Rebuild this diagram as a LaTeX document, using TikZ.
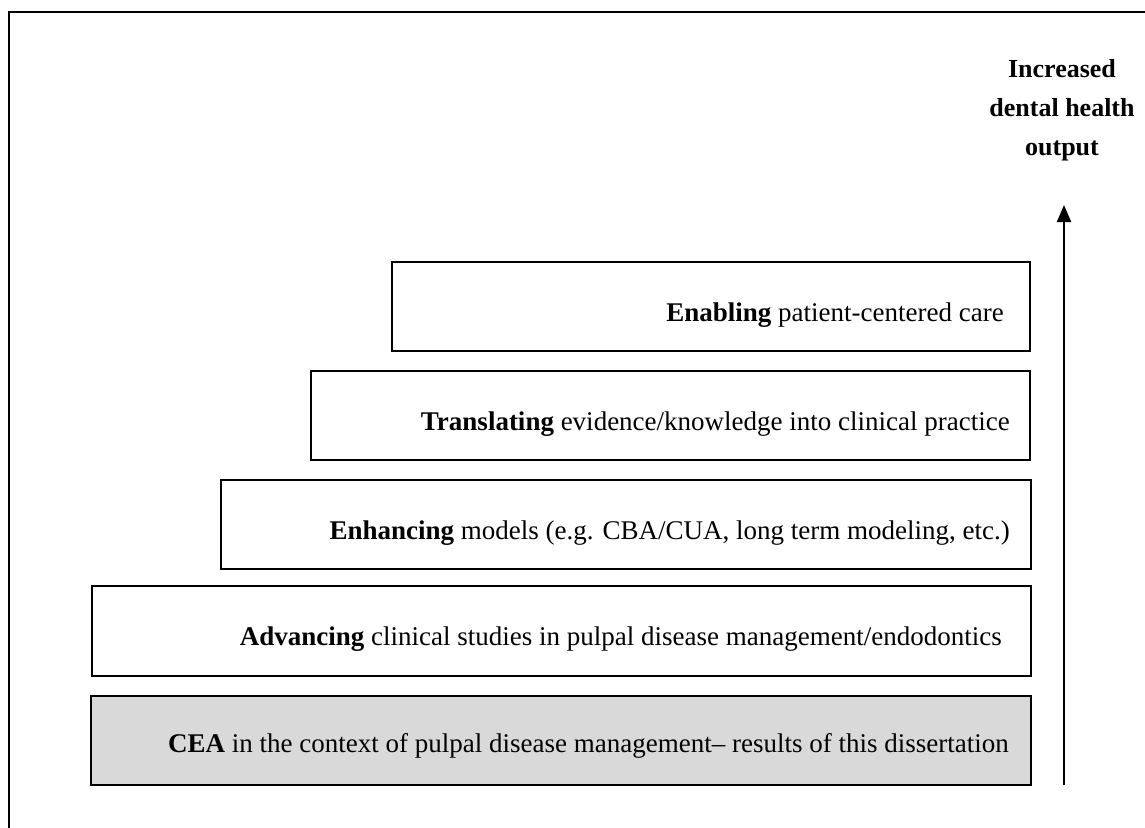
\documentclass[tikz,border=0pt]{standalone}
\usepackage{fontspec}
\setmainfont{Liberation Serif}
\usetikzlibrary{arrows.meta}
\definecolor{boxgray}{RGB}{217,217,217}
\tikzset{
  stagebox/.style={draw=black, line width=2pt, rectangle, inner sep=0pt, anchor=north west},
  stagetext/.style={anchor=base east, inner sep=0pt, font=\fontsize{27pt}{32pt}\selectfont},
  headtext/.style={anchor=base, inner sep=0pt, font=\fontsize{26pt}{31pt}\selectfont\bfseries},
  uparrow/.style={line width=2pt, -{Triangle[width=14pt,length=17pt]}},
  frameline/.style={line width=2pt, line join=miter}
}
\begin{document}
\begin{tikzpicture}[x=1pt,y=-1pt]
\useasboundingbox (0,0) rectangle (1145,827);
\clip (0,0) rectangle (1145,827);
\fill[white] (0,0) rectangle (1145,827);
% frame (open at right and bottom of the page)
\draw[frameline] (9,840) -- (9,12) -- (1160,12);

% boxes
\node[stagebox, minimum width=638pt, minimum height=89pt] (b1) at (391,261) {};
\node[stagebox, minimum width=719pt, minimum height=89pt] (b2) at (310,370) {};
\node[stagebox, minimum width=810pt, minimum height=89pt] (b3) at (220,479) {};
\node[stagebox, minimum width=939pt, minimum height=90pt] (b4) at (91,585) {};
\node[stagebox, fill=boxgray, minimum width=940pt, minimum height=89pt] (b5) at (90,695) {};

% texts
\node[stagetext] (t1) at (1004,321) {\textbf{Enabling} patient-centered care};
\node[stagetext] (t2) at (1010,430) {\textbf{Translating} evidence/knowledge into clinical practice};
\node[stagetext] (t3) at (1010,539) {\textbf{Enhancing} models (e.g. CBA/CUA, long term modeling, etc.)};
\node[stagetext] (t4) at (1002,645) {\textbf{Advancing} clinical studies in pulpal disease management/endodontics};
\node[stagetext] (t5) at (1009,752) {\textbf{CEA} in the context of pulpal disease management– results of this dissertation};

% heading
\node[headtext] (h1) at (1062,77) {Increased};
\node[headtext] (h2) at (1062,116) {dental health};
\node[headtext] (h3) at (1062,155) {output};

% arrow
\coordinate (abot) at (1064,785);
\coordinate (atop) at (1064,205);
\draw[uparrow] (abot) -- (atop);
\end{tikzpicture}
\end{document}
